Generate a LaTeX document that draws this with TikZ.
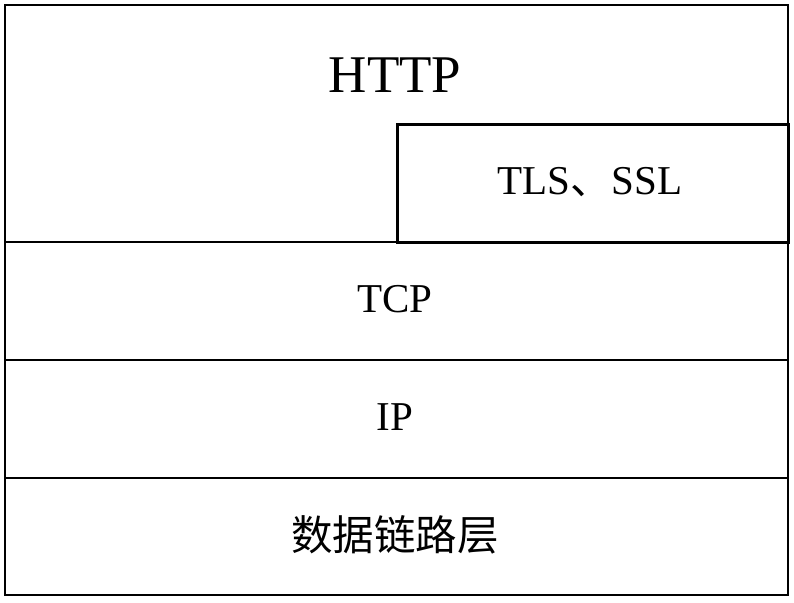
\documentclass[tikz,border=0pt]{standalone}
\usepackage{fontspec}
\setmainfont{Liberation Serif}
\newfontfamily\cjk{Noto Sans CJK SC}
\begin{document}
\begin{tikzpicture}[x=1pt,y=-1pt,
 layer/.style={draw=black,line width=2pt,rectangle,inner sep=0pt,minimum width=783pt},
 tlsbox/.style={draw=black,line width=3pt,rectangle,inner sep=0pt,minimum width=391pt,minimum height=118pt},
 txt/.style={font=\fontsize{41}{43}\selectfont,inner sep=0pt}]
 \useasboundingbox (0,0) rectangle (794,602);
 \node[layer,minimum height=237pt] (http) at (396.5,123.5) {};
 \node[layer,minimum height=118pt] (tcp) at (396.5,301) {};
 \node[layer,minimum height=118pt] (ip) at (396.5,419) {};
 \node[layer,minimum height=117pt] (link) at (396.5,536.5) {};
 \node[tlsbox] (tls) at (592.5,183) {};
 \node[txt,font=\fontsize{53}{55}\selectfont] (httptxt) at (395,75.5) {HTTP};
 \node[txt] (tlstxt) at (590,182.5) {TLS{\cjk 、}SSL};
 \node[txt] (tcptxt) at (395,299) {TCP};
 \node[txt] (iptxt) at (395,417.5) {IP};
 \node[txt,font=\fontsize{41.5}{44}\selectfont] (linktxt) at (395,535) {\cjk 数据链路层};
\end{tikzpicture}
\end{document}
